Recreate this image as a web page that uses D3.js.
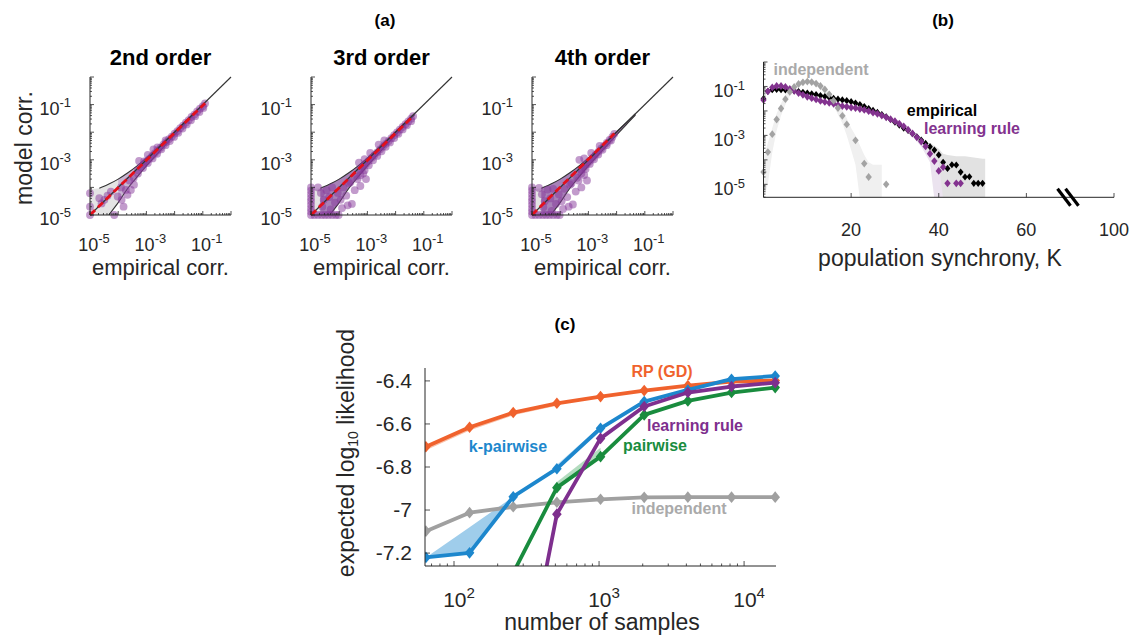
<!DOCTYPE html>
<html>
<head>
<meta charset="utf-8">
<script src="https://cdn.jsdelivr.net/npm/d3@7"></script>
<style>
  body { margin: 0; background: #fff; }
  svg { font-family: "Liberation Sans", Arial, sans-serif; }
</style>
</head>
<body>
<svg width="1139" height="642"></svg>
<script>
// ---------- data ----------
// (a) model vs empirical correlations, stored as log10 values [empirical, model]
const orders = ["2nd order", "3rd order", "4th order"];
const fitEnd = [[-0.92, -0.95], [-1.38, -1.42], [-2.08, -2.05]];
const funnelX = [-4.67, -4.5, -4.33, -4.0, -3.67, -3.33, -3.0, -2.67, -2.33, -2.0, -1.67, -1.33];
const funnelUp = [-4.03, -3.96, -3.88, -3.7, -3.48, -3.22, -2.93, -2.62, -2.3, -1.98, -1.66, -1.33];
const funnelLo = [-5.6, -5.25, -5.0, -4.55, -4.05, -3.62, -3.22, -2.85, -2.47, -2.1, -1.74, -1.38];
const purpleStart = [-4.0, -4.67, -4.67];

const pts2 = [
  [-0.92, -0.96], [-1.0, -1.06], [-1.1, -1.15], [-1.2, -1.25], [-1.3, -1.36], [-1.4, -1.45], [-1.5, -1.56],
  [-1.6, -1.65], [-1.7, -1.76], [-1.8, -1.85], [-1.9, -1.96], [-2.0, -2.05], [-2.1, -2.16], [-2.2, -2.25],
  [-2.3, -2.36], [-2.4, -2.45], [-2.5, -2.56], [-2.6, -2.66], [-2.7, -2.76], [-2.8, -2.86], [-2.9, -2.97],
  [-3.0, -3.06], [-3.1, -3.17], [-3.2, -3.27], [-3.3, -3.38],
  [-0.98, -1.12], [-1.12, -1.27], [-1.27, -1.42], [-1.42, -1.57], [-1.57, -1.72], [-1.72, -1.87], [-1.87, -2.02],
  [-2.02, -2.17], [-2.17, -2.32], [-2.32, -2.47], [-2.47, -2.62], [-2.62, -2.78], [-2.78, -2.95], [-2.95, -3.12],
  [-3.12, -3.3], [-3.3, -3.5], [-3.45, -3.65],
  [-2.95, -2.82], [-2.75, -2.62], [-3.26, -3.04], [-3.08, -3.06], [-2.61, -2.55], [-2.32, -2.3],
  [-5, -4.21], [-5, -4.7], [-5, -5], [-4.67, -4.39], [-4.49, -4.45], [-4.38, -4.3], [-4.59, -4.58], [-4.14, -5.0],
  [-3.81, -4.7], [-3.88, -4.45], [-3.67, -4.27], [-3.73, -4.09], [-3.44, -3.9], [-3.55, -4.09], [-4.02, -4.33],
  [-4.26, -4.15], [-3.6, -3.75], [-3.9, -4.0]
];
const pts3 = [
  [-1.38, -1.42], [-1.45, -1.51], [-1.55, -1.61], [-1.65, -1.71], [-1.75, -1.81], [-1.85, -1.91], [-1.95, -2.01],
  [-2.05, -2.11], [-2.15, -2.22], [-2.25, -2.32], [-2.35, -2.42], [-2.45, -2.52], [-2.55, -2.62], [-2.65, -2.73],
  [-2.75, -2.83], [-2.85, -2.93], [-2.95, -3.04], [-3.05, -3.15], [-3.15, -3.25], [-3.25, -3.36],
  [-1.45, -1.6], [-1.6, -1.75], [-1.75, -1.9], [-1.9, -2.06], [-2.05, -2.21], [-2.2, -2.37], [-2.35, -2.53],
  [-2.5, -2.69], [-2.65, -2.86], [-2.8, -3.02], [-2.95, -3.2], [-3.1, -3.38], [-3.25, -3.56],
  [-2.6, -2.45], [-2.9, -2.75], [-3.1, -2.98], [-3.3, -3.1], [-2.4, -2.3],
  [-5, -4.0], [-5, -4.12], [-5, -4.25], [-5, -4.38], [-5, -4.5], [-5, -4.63], [-5, -4.76], [-5, -4.88], [-5, -5],
  [-4.88, -5], [-4.75, -5], [-4.62, -5], [-4.5, -5], [-4.38, -5], [-4.25, -5], [-4.12, -5], [-4.02, -5],
  [-4.75, -4.0], [-4.65, -4.2], [-4.55, -4.45], [-4.45, -4.1], [-4.35, -4.35], [-4.25, -4.0], [-4.15, -4.55],
  [-4.05, -4.2], [-3.95, -4.45], [-3.85, -4.0], [-3.75, -4.3], [-3.65, -3.85], [-3.55, -4.6], [-3.45, -4.1],
  [-3.35, -3.7], [-3.25, -3.95], [-3.15, -3.5], [-3.05, -3.7], [-3.7, -4.65], [-3.9, -4.75], [-4.6, -4.7],
  [-4.3, -4.8], [-3.6, -3.8], [-3.4, -3.6]
];
const pts4 = [
  [-2.08, -2.06], [-2.15, -2.17], [-2.25, -2.28], [-2.35, -2.39], [-2.45, -2.5], [-2.55, -2.6], [-2.65, -2.71],
  [-2.75, -2.82], [-2.85, -2.93], [-2.95, -3.04], [-3.05, -3.15], [-3.15, -3.26], [-3.25, -3.37],
  [-2.2, -2.3], [-2.35, -2.47], [-2.5, -2.64], [-2.65, -2.81], [-2.8, -2.98], [-2.95, -3.15], [-3.1, -3.33],
  [-3.25, -3.5],
  [-3.32, -3.0], [-3.15, -2.95], [-2.9, -2.75], [-2.6, -2.5],
  [-5, -4.0], [-5, -4.12], [-5, -4.25], [-5, -4.38], [-5, -4.5], [-5, -4.63], [-5, -4.76], [-5, -4.88], [-5, -5],
  [-4.88, -5], [-4.75, -5], [-4.62, -5], [-4.5, -5], [-4.38, -5], [-4.25, -5], [-4.12, -5], [-4.02, -5],
  [-4.75, -4.02], [-4.65, -4.25], [-4.55, -4.5], [-4.45, -4.08], [-4.35, -4.4], [-4.25, -4.05], [-4.15, -4.6],
  [-4.05, -4.25], [-3.95, -4.5], [-3.85, -4.05], [-3.75, -4.35], [-3.65, -3.9], [-3.55, -4.62], [-3.45, -4.15],
  [-3.35, -3.75], [-3.25, -4.0], [-3.15, -3.55], [-3.05, -3.75], [-3.7, -4.7], [-3.9, -4.78], [-4.6, -4.72],
  [-4.3, -4.85], [-3.6, -3.85], [-3.4, -3.65]
];

// (b) population synchrony, log10 P(K) for K = 0, 1, 2, ...
const empP = [-1.5, -1.2, -1.13, -1.12, -1.13, -1.14, -1.16, -1.18, -1.21, -1.24,
  -1.27, -1.3, -1.33, -1.37, -1.41, -1.45, -1.49, -1.52, -1.55, -1.58,
  -1.62, -1.68, -1.74, -1.82, -1.9, -1.98, -2.06, -2.15, -2.24, -2.35,
  -2.46, -2.58, -2.7, -2.8, -2.93, -3.06, -3.19, -3.33, -3.46, -3.6,
  -3.8, -4.1, -4.35, -4.2, -4.21, -4.5, -4.7, -4.69, -4.96, -4.96, -4.96];
const ruleP = [-1.55, -1.2, -1.04, -0.98, -0.98, -1.02, -1.1, -1.18, -1.27, -1.34,
  -1.42, -1.48, -1.53, -1.59, -1.63, -1.67, -1.71, -1.76, -1.8, -1.83,
  -1.86, -1.88, -1.92, -1.96, -2.01, -2.07, -2.12, -2.19, -2.26, -2.34,
  -2.42, -2.52, -2.63, -2.77, -2.92, -3.08, -3.25, -3.45, -3.75, -4.05,
  -4.45, -4.3, -4.96, null, -4.96, -4.96];
const indepP = [-4.5, -3.68, -2.95, -2.35, -1.9, -1.52, -1.22, -1.02, -0.9, -0.83,
  -0.8, -0.82, -0.88, -0.98, -1.12, -1.32, -1.58, -1.88, -2.2, -2.55,
  null, -3.2, null, -4.15, -4.7, null, null, null, -5.0];
const kTicks = [20, 40, 60, 80];
const kTickLabels = ["20", "40", "60", "100"];
// confidence bands [K, low, high] in log10
const indepBand = [[0, -5.6, -3.9], [1, -5.0, -3.3], [2, -3.7, -2.7], [3, -2.8, -2.1], [4, -2.2, -1.7],
  [5, -1.75, -1.35], [6, -1.4, -1.1], [8, -1.0, -0.85], [10, -0.88, -0.75], [12, -0.95, -0.8],
  [14, -1.25, -1.0], [16, -1.8, -1.4], [18, -2.5, -1.95], [19, -3.0, -2.3], [20, -3.6, -2.7],
  [21, -4.2, -3.0], [22, -5.6, -3.4], [23, -5.6, -3.8], [24, -5.6, -4.1], [25, -5.6, -4.2],
  [26, -5.6, -4.2], [27, -5.6, -4.2]];
const ruleBand = [[34, -3.05, -2.8], [36, -3.45, -3.1], [38, -4.1, -3.5], [39, -5.6, -3.75], [40, -5.6, -3.95],
  [41, -5.6, -4.0], [42, -5.6, -4.1], [44, -5.6, -4.1], [45, -5.6, -4.1]];
const empBand = [[38, -3.6, -3.3], [40, -4.1, -3.55], [41, -5.6, -3.75], [42, -5.6, -3.8], [44, -5.6, -3.85],
  [46, -5.6, -3.85], [48, -5.6, -3.9], [50, -5.6, -3.95], [50.6, -5.6, -3.95]];

// (c) expected log10 likelihood vs number of samples
const samples = [64, 128, 256, 512, 1024, 2048, 4096, 8192, 16384];
const llRP = [-6.706, -6.615, -6.547, -6.504, -6.473, -6.445, -6.422, -6.403, -6.398];
const llKPair = [-7.22, -7.199, -6.938, -6.808, -6.62, -6.496, -6.442, -6.392, -6.377];
const llPair = [null, null, -7.292, -6.896, -6.752, -6.558, -6.493, -6.454, -6.431];
const llRule = [null, null, -8.05, -7.019, -6.667, -6.519, -6.454, -6.426, -6.408];
const llIndep = [-7.098, -7.012, -6.985, -6.964, -6.95, -6.941, -6.94, -6.94, -6.94];
const llYTicks = [-7.2, -7, -6.8, -6.6, -6.4];
// bands [samples, low, high]
const rpBand = [[64, -6.722, -6.706], [128, -6.63, -6.615], [256, -6.56, -6.547], [512, -6.515, -6.504]];
const kPairBand = [[64, -7.22, -7.22], [128, -7.199, -7.08], [256, -6.938, -6.938]];
const kPairBand2 = [[512, -6.808, -6.79], [1024, -6.62, -6.61]];
const pairBand = [[512, -6.896, -6.87], [1024, -6.752, -6.71]];

// ---------- style ----------
const ink = "#262626";
const purple = "#7e2f8e";
const dotPurple = "#86379a";
const red = "#e3101c";
const gray = "#a0a0a0";
const orange = "#f0622d";
const blue = "#1d87cd";
const green = "#198c3e";

let svg = d3.select("svg");
const p10 = v => Math.pow(10, v);

function SupLabel(g, x, y, exp, size, anchor) {
  const t = g.append("text")
    .attr("x", x).attr("y", y)
    .attr("text-anchor", anchor)
    .attr("font-size", size)
    .attr("fill", ink);
  t.append("tspan").text("10");
  t.append("tspan").attr("dy", -size * 0.42).attr("font-size", size * 0.72).text(exp);
}

function LogTicks(scale) {
  const [d0, d1] = scale.domain();
  const out = [];
  for (let e = Math.floor(Math.log10(d0)); e <= Math.ceil(Math.log10(d1)); e++) {
    for (let m = 1; m <= 9; m++) {
      const v = m * Math.pow(10, e);
      if (v >= d0 * 0.999 && v <= d1 * 1.001) out.push({ v: v, major: m === 1 });
    }
  }
  return out;
}

function Diamond(w, h) {
  return `M0,${-h}L${w},0L0,${h}L${-w},0Z`;
}

function Title(x, y, text, size) {
  svg.append("text")
    .attr("x", x).attr("y", y)
    .attr("text-anchor", "middle")
    .attr("font-size", size)
    .attr("font-weight", "bold")
    .attr("fill", "#000")
    .text(text);
}

// ---------- panel (a) ----------
const a_left = [90, 311, 532];
const a_w = 141;
const a_top = 77;
const a_bot = 215;
const funnelFill = ["#c9b5d3", "#a882b8", "#a882b8"];

function DrawCorr(i, pts) {
  const x0 = a_left[i];
  const x = d3.scaleLog().domain([1e-5, 1]).range([x0, x0 + a_w]);
  const y = d3.scaleLog().domain([1e-5, 1]).range([a_bot, a_top]);
  const g = svg.append("g");

  const clipId = "clipa" + i;
  svg.append("clipPath").attr("id", clipId)
    .append("rect").attr("x", x0).attr("y", a_top).attr("width", a_w).attr("height", a_bot - a_top);
  const plot = g.append("g").attr("clip-path", `url(#${clipId})`);

  const funnel = funnelX.map((v, j) => [v, funnelUp[j], funnelLo[j]]);
  const area = d3.area()
    .x(d => x(p10(d[0])))
    .y0(d => y(p10(d[2])))
    .y1(d => y(p10(d[1])))
    .curve(d3.curveMonotoneX);

  // grey patch in the low corner
  plot.append("path")
    .datum([[-5, -4.05, -6]].concat(funnel))
    .attr("d", area)
    .attr("fill", "#e4e4e4");
  plot.append("path")
    .datum(funnel.filter(d => d[0] >= purpleStart[i]))
    .attr("d", area)
    .attr("fill", funnelFill[i]);

  g.append("g").selectAll("circle")
    .data(pts)
    .join("circle")
    .attr("cx", d => x(p10(d[0])))
    .attr("cy", d => y(p10(d[1])))
    .attr("r", 3.9)
    .attr("fill", dotPurple)
    .attr("fill-opacity", 0.5);

  const curve = d3.line().x(d => x(p10(d[0]))).y(d => y(p10(d[1]))).curve(d3.curveMonotoneX);
  plot.append("path")
    .datum(funnel.map(d => [d[0], d[1]]))
    .attr("d", curve).attr("fill", "none").attr("stroke", "#333").attr("stroke-width", 1.1);
  plot.append("path")
    .datum(funnel.map(d => [d[0], d[2]]))
    .attr("d", curve).attr("fill", "none").attr("stroke", "#333").attr("stroke-width", 1.1);

  // identity line
  g.append("line")
    .attr("x1", x(1e-5)).attr("y1", y(1e-5))
    .attr("x2", x(1)).attr("y2", y(1))
    .attr("stroke", "#333").attr("stroke-width", 1.1);

  // fit
  g.append("line")
    .attr("x1", x(1e-5)).attr("y1", y(1e-5))
    .attr("x2", x(p10(fitEnd[i][0]))).attr("y2", y(p10(fitEnd[i][1])))
    .attr("stroke", red).attr("stroke-width", 2.8)
    .attr("stroke-dasharray", "7,4");

  // axes
  g.append("line").attr("x1", x0).attr("y1", a_top).attr("x2", x0).attr("y2", a_bot)
    .attr("stroke", ink).attr("stroke-width", 1);
  g.append("line").attr("x1", x0).attr("y1", a_bot).attr("x2", x0 + a_w).attr("y2", a_bot)
    .attr("stroke", ink).attr("stroke-width", 1);
  LogTicks(y).forEach(t => {
    g.append("line").attr("x1", x0).attr("x2", x0 + (t.major ? 4 : 2))
      .attr("y1", y(t.v)).attr("y2", y(t.v)).attr("stroke", ink).attr("stroke-width", 0.8);
  });
  LogTicks(x).forEach(t => {
    g.append("line").attr("y1", a_bot).attr("y2", a_bot - (t.major ? 4 : 2))
      .attr("x1", x(t.v)).attr("x2", x(t.v)).attr("stroke", ink).attr("stroke-width", 0.8);
  });
  [-5, -3, -1].forEach(e => {
    SupLabel(g, x0 - 19, y(p10(e)) + 10, String(e), 18, "end");
    SupLabel(g, x(p10(e)) + 4, a_bot + 36, String(e), 18, "middle");
  });

  g.append("text")
    .attr("x", x0 + a_w / 2).attr("y", 275)
    .attr("text-anchor", "middle").attr("font-size", 22).attr("fill", ink)
    .text("empirical corr.");
  Title(x0 + a_w / 2, 65, orders[i], 22);
}

DrawCorr(0, pts2);
DrawCorr(1, pts3);
DrawCorr(2, pts4);

svg.append("text")
  .attr("transform", "translate(32,148) rotate(-90)")
  .attr("text-anchor", "middle").attr("font-size", 23).attr("fill", ink)
  .text("model corr.");
Title(385, 26, "(a)", 17);

// ---------- panel (b) ----------
function DrawSynchrony() {
  const x = d3.scaleLinear().domain([0, 80]).range([763.5, 1114]);
  const y = d3.scaleLog().domain([p10(-5.53), 1]).range([197.3, 62]);
  const g = svg.append("g");
  svg.append("clipPath").attr("id", "clipb")
    .append("rect").attr("x", 763.5).attr("y", 62).attr("width", 351).attr("height", 135.3);
  const plot = g.append("g").attr("clip-path", "url(#clipb)");

  const area = d3.area()
    .x(d => x(d[0]))
    .y0(d => y(p10(d[1])))
    .y1(d => y(p10(d[2])))
    .curve(d3.curveLinear);
  plot.append("path").datum(indepBand).attr("d", area).attr("fill", "#f0f0f0");
  plot.append("path").datum(ruleBand).attr("d", area).attr("fill", "#ebe3ef");
  plot.append("path").datum(empBand).attr("d", area).attr("fill", "#e2e2e2");

  function Markers(vals, color, w, h) {
    g.append("g").selectAll("path")
      .data(vals.map((v, k) => [k, v]).filter(d => d[1] !== null))
      .join("path")
      .attr("transform", d => `translate(${x(d[0])},${y(p10(d[1]))})`)
      .attr("d", Diamond(w, h))
      .attr("fill", color);
  }
  Markers(empP, "#000", 2.9, 3.6);
  Markers(ruleP, "#83338f", 3.2, 3.9);
  Markers(indepP, "#a3a3a3", 3.2, 3.9);

  // axes
  g.append("line").attr("x1", 763.5).attr("y1", 62).attr("x2", 763.5).attr("y2", 197.3)
    .attr("stroke", ink).attr("stroke-width", 1);
  g.append("line").attr("x1", 763.5).attr("y1", 197.3).attr("x2", 1114).attr("y2", 197.3)
    .attr("stroke", ink).attr("stroke-width", 1);
  LogTicks(y).forEach(t => {
    g.append("line").attr("x1", 763.5).attr("x2", 763.5 + (t.major ? 4 : 2))
      .attr("y1", y(t.v)).attr("y2", y(t.v)).attr("stroke", ink).attr("stroke-width", 0.8);
  });
  [-5, -3, -1].forEach(e => SupLabel(g, 745, y(p10(e)) + 11, String(e), 18, "end"));
  kTicks.forEach((k, j) => {
    g.append("line").attr("x1", x(k)).attr("x2", x(k)).attr("y1", 197.3).attr("y2", 193)
      .attr("stroke", ink).attr("stroke-width", 0.8);
    g.append("text").attr("x", x(k)).attr("y", 236)
      .attr("text-anchor", "middle").attr("font-size", 18).attr("fill", ink)
      .text(kTickLabels[j]);
  });

  // axis break
  [1064, 1072].forEach(bx => {
    g.append("line")
      .attr("x1", bx - 6.5).attr("y1", 197.3 - 8.5)
      .attr("x2", bx + 6.5).attr("y2", 197.3 + 8.5)
      .attr("stroke", "#000").attr("stroke-width", 3.2);
  });

  g.append("text").attr("x", 940).attr("y", 266)
    .attr("text-anchor", "middle").attr("font-size", 23).attr("fill", ink)
    .text("population synchrony, K");

  const lab = (tx, ty, text, color) => g.append("text")
    .attr("x", tx).attr("y", ty).attr("text-anchor", "middle")
    .attr("font-size", 16).attr("font-weight", "bold").attr("fill", color).text(text);
  lab(821, 75, "independent", "#aaaaaa");
  lab(942, 116, "empirical", "#000");
  lab(972, 134, "learning rule", "#83338f");
}
DrawSynchrony();
Title(943, 26, "(b)", 17);

// ---------- panel (c) ----------
function DrawLikelihood() {
  const x = d3.scaleLog().domain([p10(1.8), p10(4.22)]).range([425, 776]);
  const y = d3.scaleLinear().domain([-7.26, -6.34]).range([566, 368]);
  const g = svg.append("g");
  svg.append("clipPath").attr("id", "clipc")
    .append("rect").attr("x", 425).attr("y", 362).attr("width", 360).attr("height", 204);
  const plot = g.append("g").attr("clip-path", "url(#clipc)");

  const area = d3.area().x(d => x(d[0])).y0(d => y(d[1])).y1(d => y(d[2]));
  plot.append("path").datum(rpBand).attr("d", area).attr("fill", "#f9c2ab");
  plot.append("path").datum(kPairBand).attr("d", area).attr("fill", "#9fcdeb");
  plot.append("path").datum(kPairBand2).attr("d", area).attr("fill", "#b9dcf2");
  plot.append("path").datum(pairBand).attr("d", area).attr("fill", "#b3dcbf");

  const line = d3.line()
    .defined(d => d[1] !== null)
    .x(d => x(d[0])).y(d => y(d[1]));
  function Series(vals, color) {
    const data = samples.map((s, j) => [s, vals[j]]);
    plot.append("path").datum(data).attr("d", line)
      .attr("fill", "none").attr("stroke", color).attr("stroke-width", 3.8)
      .attr("stroke-linejoin", "round");
    plot.append("g").selectAll("path")
      .data(data.filter(d => d[1] !== null))
      .join("path")
      .attr("transform", d => `translate(${x(d[0])},${y(d[1])})`)
      .attr("d", Diamond(4.8, 5.8))
      .attr("fill", color);
  }
  Series(llIndep, gray);
  Series(llRP, orange);
  Series(llPair, green);
  Series(llKPair, blue);
  Series(llRule, purple);

  // axes
  g.append("line").attr("x1", 425).attr("y1", 368).attr("x2", 425).attr("y2", 566)
    .attr("stroke", ink).attr("stroke-width", 1);
  g.append("line").attr("x1", 425).attr("y1", 566).attr("x2", 776).attr("y2", 566)
    .attr("stroke", ink).attr("stroke-width", 1);
  llYTicks.forEach(v => {
    g.append("line").attr("x1", 425).attr("x2", 430).attr("y1", y(v)).attr("y2", y(v))
      .attr("stroke", ink).attr("stroke-width", 0.8);
    g.append("text").attr("x", 412).attr("y", y(v) + 7)
      .attr("text-anchor", "end").attr("font-size", 21).attr("fill", ink)
      .text(String(v));
  });
  LogTicks(x).forEach(t => {
    g.append("line").attr("x1", x(t.v)).attr("x2", x(t.v))
      .attr("y1", 566).attr("y2", 566 - (t.major ? 5 : 2.5))
      .attr("stroke", ink).attr("stroke-width", 0.8);
  });
  [2, 3, 4].forEach(e => SupLabel(g, x(p10(e)) + 5, 607, String(e), 21, "middle"));

  g.append("text").attr("x", 602).attr("y", 630)
    .attr("text-anchor", "middle").attr("font-size", 23).attr("fill", ink)
    .text("number of samples");
  const yl = g.append("text")
    .attr("transform", "translate(354,453) rotate(-90)")
    .attr("text-anchor", "middle").attr("font-size", 23).attr("fill", ink);
  yl.append("tspan").text("expected log");
  yl.append("tspan").attr("font-size", 14).attr("dy", 4).text("10");
  yl.append("tspan").attr("dy", -4).text(" likelihood");

  const lab = (tx, ty, text, color) => g.append("text")
    .attr("x", tx).attr("y", ty).attr("text-anchor", "middle")
    .attr("font-size", 16).attr("font-weight", "bold").attr("fill", color).text(text);
  lab(662, 377, "RP (GD)", orange);
  lab(508, 452, "k-pairwise", blue);
  lab(695, 431, "learning rule", purple);
  lab(655, 451, "pairwise", green);
  lab(679, 514, "independent", "#aaaaaa");
}
DrawLikelihood();
Title(565, 330, "(c)", 17);
</script>
</body>
</html>
